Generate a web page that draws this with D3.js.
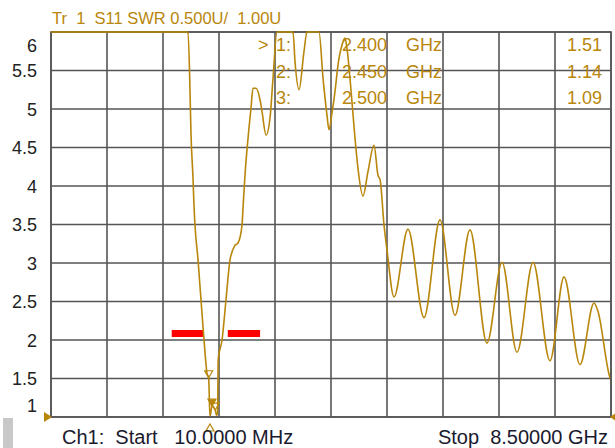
<!DOCTYPE html>
<html>
<head>
<meta charset="utf-8">
<script src="https://cdn.jsdelivr.net/npm/d3@7"></script>
<style>
  html, body { margin: 0; padding: 0; background: #fff; }
  svg { display: block; }
  text { font-family: "Liberation Sans", Arial, sans-serif; white-space: pre; }
</style>
</head>
<body>
<svg id="chart" width="615" height="448"></svg>
<script>
// ---- data ----
const freqGHz = [0.01, 1.0, 2.0, 2.087, 2.117, 2.132, 2.163, 2.178, 2.193, 2.239, 2.284, 2.33, 2.375, 2.40, 2.42, 2.45, 2.50, 2.52, 2.535, 2.545,
  2.603, 2.663, 2.724, 2.80, 2.845, 2.906, 2.921, 2.951, 2.997, 3.042, 3.072, 3.118, 3.179, 3.209, 3.27, 3.33, 3.376, 3.436, 3.55, 3.679,
  3.709, 3.77, 3.846, 3.891, 3.98, 4.073, 4.134, 4.194, 4.225, 4.27, 4.316, 4.361, 4.422, 4.467, 4.497, 4.543, 4.619, 4.664, 4.74, 4.816,
  4.907, 4.967, 5.0, 5.059, 5.104, 5.21, 5.422, 5.665, 5.908, 6.135, 6.362, 6.62, 6.848, 7.075, 7.318, 7.575, 7.788, 8.03, 8.242, 8.30, 8.485, 8.5];
const swr = [7.0, 7.5, 6.8, 6.0, 5.25, 4.69, 4.10, 3.74, 3.49, 3.04, 2.52, 2.0, 1.57, 1.51, 1.0, 1.14, 1.09, 1.02, 1.05, 1.75,
  2.0, 2.52, 3.04, 3.23, 3.26, 3.49, 3.71, 4.14, 4.62, 5.01, 5.27, 5.27, 5.12, 4.97, 4.66, 4.88, 5.40, 6.0, 6.4, 6.0,
  5.62, 5.25, 5.75, 6.0, 6.3, 6.0, 5.40, 4.92, 4.73, 4.95, 5.23, 5.57, 5.83, 5.92, 5.79, 5.40, 4.62, 4.23, 3.87, 4.19,
  4.53, 4.14, 4.08, 3.49, 3.17, 2.56, 3.44, 2.29, 3.56, 2.32, 3.43, 1.96, 3.01, 1.84, 3.01, 1.73, 2.82, 1.68, 2.48, 2.38, 1.51, 1.48];
const yTicks = [1, 1.5, 2, 2.5, 3, 3.5, 4, 4.5, 5, 5.5, 6];
const yTickLabels = ["1", "1.5", "2", "2.5", "3", "3.5", "4", "4.5", "5", "5.5", "6"];
const xDivisions = d3.range(0, 11);
const markerNames = ["1:", "2:", "3:"];
const markerFreq = [2.40, 2.45, 2.50];
const markerFreqLabels = ["2.400", "2.450", "2.500"];
const markerUnit = "GHz";
const markerSWR = [1.51, 1.14, 1.09];
const markerSWRLabels = ["1.51", "1.14", "1.09"];
const limitSWR = 2.0;
const limitBands = [[1.84, 2.33], [2.69, 3.18]];
const titleText = "Tr  1  S11 SWR 0.500U/  1.00U";
const startText = "Ch1:  Start   10.0000 MHz";
const stopText = "Stop  8.50000 GHz";

// ---- layout ----
const gold = "#b8860b";
const L = 51, R = 611, T = 32, B = 417;
const x = d3.scaleLinear().domain([0.01, 8.5]).range([L, R]);
const y = d3.scaleLinear().domain([1, 6]).range([B, T]).clamp(true);
const xDiv = d3.scaleLinear().domain([0, 10]).range([L, R]);

const svg = d3.select("#chart");

// left grey bar
svg.append("rect").attr("x", 3).attr("y", 418).attr("width", 10).attr("height", 30).attr("fill", "#c8c8c8");

// grid
const grid = svg.append("g").attr("stroke", "#555").attr("stroke-width", 1.6);
grid.selectAll("line.v").data(xDivisions).join("line")
  .attr("x1", d => xDiv(d)).attr("x2", d => xDiv(d)).attr("y1", T).attr("y2", B);
grid.selectAll("line.h").data(yTicks).join("line")
  .attr("x1", L).attr("x2", R).attr("y1", d => y(d)).attr("y2", d => y(d));

// y labels (clamped inside plot like the instrument)
svg.append("g").selectAll("text").data(yTicks).join("text")
  .attr("x", 37).attr("text-anchor", "end")
  .attr("y", d => Math.min(Math.max(y(d), 45), 405) + 6.5)
  .attr("font-size", 18).attr("fill", "#222")
  .text((d, i) => yTickLabels[i]);

// limit bands (red)
svg.append("g").selectAll("rect").data(limitBands).join("rect")
  .attr("x", d => x(d[0])).attr("width", d => x(d[1]) - x(d[0]))
  .attr("y", y(limitSWR) - 10).attr("height", 7).attr("fill", "#ff0000");

// trace
const pts = freqGHz.map((f, i) => [f, swr[i]]);
const line = d3.line().x(d => x(d[0])).y(d => y(d[1])).curve(d3.curveMonotoneX);
svg.append("path").datum(pts)
  .attr("fill", "none").attr("stroke", gold).attr("stroke-width", 1.6).attr("d", line);

// markers on trace
const mk = svg.append("g").attr("stroke", gold).attr("stroke-width", 1.2);
markerFreq.forEach((f, i) => {
  const mx = x(f), my = y(markerSWR[i]);
  mk.append("path")
    .attr("d", `M${mx - 4},${my - 7}L${mx + 4},${my - 7}L${mx},${my}Z`)
    .attr("fill", i === 1 ? gold : "none");
});
// stimulus marker below axis
svg.append("path")
  .attr("d", `M${x(2.42) - 4},${B + 14}L${x(2.42) + 4},${B + 14}L${x(2.42)},${B + 7}Z`)
  .attr("fill", "none").attr("stroke", gold).attr("stroke-width", 1.2);

// frame
svg.append("rect").attr("x", L).attr("y", T).attr("width", R - L).attr("height", B - T)
  .attr("fill", "none").attr("stroke", "#555").attr("stroke-width", 1.6);
// redraw the clipped trace on top of the frame
svg.append("clipPath").attr("id", "topclip").append("rect")
  .attr("x", L).attr("y", T - 2).attr("width", R - L).attr("height", 4);
svg.append("path").datum(pts)
  .attr("fill", "none").attr("stroke", gold).attr("stroke-width", 1.6)
  .attr("d", line).attr("clip-path", "url(#topclip)");

// corner reference triangles
svg.append("path").attr("d", `M${L - 7},${B - 5}L${L + 1},${B}L${L - 7},${B + 5}Z`).attr("fill", gold);
svg.append("path").attr("d", `M${R + 6},${B - 5}L${R - 1},${B}L${R + 6},${B + 5}Z`).attr("fill", gold);

// title
svg.append("text").attr("x", 52).attr("y", 24).attr("font-size", 16.5).attr("fill", gold).text(titleText);

// marker table
const rowY = [51, 78, 104];
const tbl = svg.append("g").attr("font-size", 18).attr("fill", gold);
tbl.append("text").attr("x", 258).attr("y", rowY[0]).text(">");
markerNames.forEach((n, i) => {
  tbl.append("text").attr("x", 276).attr("y", rowY[i]).text(n);
  tbl.append("text").attr("x", 342).attr("y", rowY[i]).text(markerFreqLabels[i]);
  tbl.append("text").attr("x", 406).attr("y", rowY[i]).text(markerUnit);
  tbl.append("text").attr("x", 602).attr("y", rowY[i]).attr("text-anchor", "end").text(markerSWRLabels[i]);
});

// bottom text
svg.append("text").attr("x", 62).attr("y", 444).attr("font-size", 20).attr("fill", "#1a1a2e").text(startText);
svg.append("text").attr("x", 608).attr("y", 444).attr("text-anchor", "end").attr("font-size", 20).attr("fill", "#1a1a2e").text(stopText);
</script>
</body>
</html>
